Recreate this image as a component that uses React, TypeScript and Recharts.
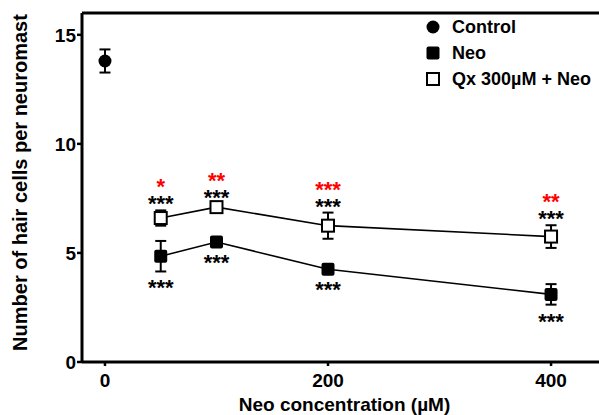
import React from 'react';
import {
  ComposedChart,
  Line,
  XAxis,
  YAxis,
  ErrorBar,
  ReferenceLine,
  Legend,
} from 'recharts';

// values (mean ± SEM)
const CONC = [50, 100, 200, 400];
const NEO_MEAN = [4.85, 5.5, 4.25, 3.1];
const NEO_SEM = [0.7, 0.2, 0.15, 0.47];
const QX_MEAN = [6.6, 7.1, 6.25, 5.75];
const QX_SEM = [0.35, 0.15, 0.6, 0.52];
const CONTROL_X = [0];
const CONTROL_MEAN = [13.8];
const CONTROL_SEM = [0.53];

// significance marks
const NEO_STARS = ['***', '***', '***', '***'];
const QX_STARS = ['***', '***', '***', '***'];
const QX_RED_STARS = ['*', '**', '***', '**'];

const X_TICKS = [0, 200, 400];
const Y_TICKS = [0, 5, 10, 15];
const Y_MAX = 16;

const FONT = '"Liberation Sans", Arial, sans-serif';
const W = 599;
const H = 415;
const MARGIN_TOP = 13;
const X_AXIS_H = 53;
const PLOT_H = H - MARGIN_TOP - X_AXIS_H;
const PX_PER_UNIT = PLOT_H / Y_MAX;

const controlData = CONTROL_X.map((x, i) => ({ x, y: CONTROL_MEAN[i], err: CONTROL_SEM[i] }));
const neoData = CONC.map((x, i) => ({ x, y: NEO_MEAN[i], err: NEO_SEM[i] }));
const qxData = CONC.map((x, i) => ({ x, y: QX_MEAN[i], err: QX_SEM[i] }));

type Kind = 'circle' | 'filled' | 'open';

const marker = (kind: Kind, cx: number, cy: number) => {
  if (kind === 'circle') return <circle cx={cx} cy={cy} r={6.5} fill="#000" />;
  if (kind === 'filled')
    return <rect x={cx - 6.5} y={cy - 6.5} width={13} height={13} rx={2} fill="#000" />;
  return (
    <rect x={cx - 6} y={cy - 6} width={12} height={12} fill="#fff" stroke="#000" strokeWidth={2} />
  );
};

const starStyle = { fontFamily: FONT, fontSize: 22, fontWeight: 'bold' as const };

const makeDot =
  (kind: Kind, below?: string[], above?: string[], red?: string[]) => (p: any) => {
    const { cx, cy, index } = p;
    const errPx = (p.payload?.err ?? 0) * PX_PER_UNIT;
    const topBase = cy - errPx + 1;
    const bottomBase = cy + errPx + 24;
    return (
      <g key={`dot-${kind}-${index}`}>
        {marker(kind, cx, cy)}
        {above && (
          <text x={cx} y={red ? topBase - 17 : topBase} textAnchor="middle" style={starStyle}>
            {red && (
              <tspan x={cx} fill="#ff0000">
                {red[index]}
              </tspan>
            )}
            <tspan x={cx} dy={red ? 17 : 0} fill="#000">
              {above[index]}
            </tspan>
          </text>
        )}
        {below && (
          <text x={cx} y={bottomBase} textAnchor="middle" fill="#000" style={starStyle}>
            {below[index]}
          </text>
        )}
      </g>
    );
  };

const LEGEND_ITEMS: { name: string; kind: Kind }[] = [
  { name: 'Control', kind: 'circle' },
  { name: 'Neo', kind: 'filled' },
  { name: 'Qx 300µM + Neo', kind: 'open' },
];

const LegendBox = () => (
  <div style={{ fontFamily: FONT, fontWeight: 'bold', fontSize: 18, color: '#000' }}>
    {LEGEND_ITEMS.map((it) => (
      <div key={it.name} style={{ display: 'flex', alignItems: 'center', height: 26, whiteSpace: 'nowrap' }}>
        <svg width={16} height={16}>
          {marker(it.kind, 8, 8)}
        </svg>
        <span style={{ marginLeft: 11 }}>{it.name}</span>
      </div>
    ))}
  </div>
);

const tickStyle = { fontFamily: FONT, fontSize: 19, fontWeight: 'bold' as const, fill: '#000' };

export default function App() {
  return (
    <div style={{ position: 'absolute', left: 0, top: 0, width: W, height: H, background: '#fff' }}>
      <ComposedChart
        width={W}
        height={H}
        margin={{ top: MARGIN_TOP, right: 0, bottom: 0, left: 0 }}
      >
        <XAxis
          type="number"
          dataKey="x"
          domain={[-20.6, 443]}
          ticks={X_TICKS}
          allowDataOverflow
          height={X_AXIS_H}
          tickSize={4}
          tickMargin={8}
          tick={tickStyle}
          axisLine={{ stroke: '#000', strokeWidth: 3 }}
          tickLine={{ stroke: '#000', strokeWidth: 2.5 }}
          label={{
            content: ({ viewBox }: any) => (
              <text
                x={viewBox.x + viewBox.width / 2 + 4}
                y={viewBox.y + viewBox.height - 4}
                textAnchor="middle"
                style={{ fontFamily: FONT, fontSize: 19, fontWeight: 'bold' }}
                fill="#000"
              >
                Neo concentration (µM)
              </text>
            ),
          }}
        />
        <YAxis
          type="number"
          domain={[0, Y_MAX]}
          ticks={Y_TICKS}
          width={82}
          tickSize={5}
          tickMargin={1}
          tick={tickStyle}
          axisLine={{ stroke: '#000', strokeWidth: 3 }}
          tickLine={{ stroke: '#000', strokeWidth: 2.5 }}
          label={{
            content: ({ viewBox }: any) => {
              const cx = viewBox.x + 20;
              const cy = viewBox.y + viewBox.height / 2 - 5;
              return (
                <text
                  x={cx}
                  y={cy}
                  transform={`rotate(-90, ${cx}, ${cy})`}
                  textAnchor="middle"
                  dominantBaseline="central"
                  style={{ fontFamily: FONT, fontSize: 20, fontWeight: 'bold' }}
                  fill="#000"
                >
                  Number of hair cells per neuromast
                </text>
              );
            },
          }}
        />
        <ReferenceLine y={Y_MAX} stroke="#000" strokeWidth={3} />
        <Legend
          layout="vertical"
          align="center"
          verticalAlign="middle"
          wrapperStyle={{ top: 14, left: 425, width: 174 }}
          content={() => <LegendBox />}
        />
        <Line
          data={neoData}
          dataKey="y"
          stroke="#000"
          strokeWidth={1.6}
          isAnimationActive={false}
          dot={makeDot('filled', NEO_STARS)}
          activeDot={false}
        >
          <ErrorBar dataKey="err" direction="y" width={5.5} stroke="#000" strokeWidth={2} />
        </Line>
        <Line
          data={qxData}
          dataKey="y"
          stroke="#000"
          strokeWidth={1.6}
          isAnimationActive={false}
          dot={makeDot('open', undefined, QX_STARS, QX_RED_STARS)}
          activeDot={false}
        >
          <ErrorBar dataKey="err" direction="y" width={5.5} stroke="#000" strokeWidth={2} />
        </Line>
        <Line
          data={controlData}
          dataKey="y"
          stroke="#000"
          strokeWidth={1.6}
          isAnimationActive={false}
          dot={makeDot('circle')}
          activeDot={false}
        >
          <ErrorBar dataKey="err" direction="y" width={5.5} stroke="#000" strokeWidth={2} />
        </Line>
      </ComposedChart>
    </div>
  );
}
